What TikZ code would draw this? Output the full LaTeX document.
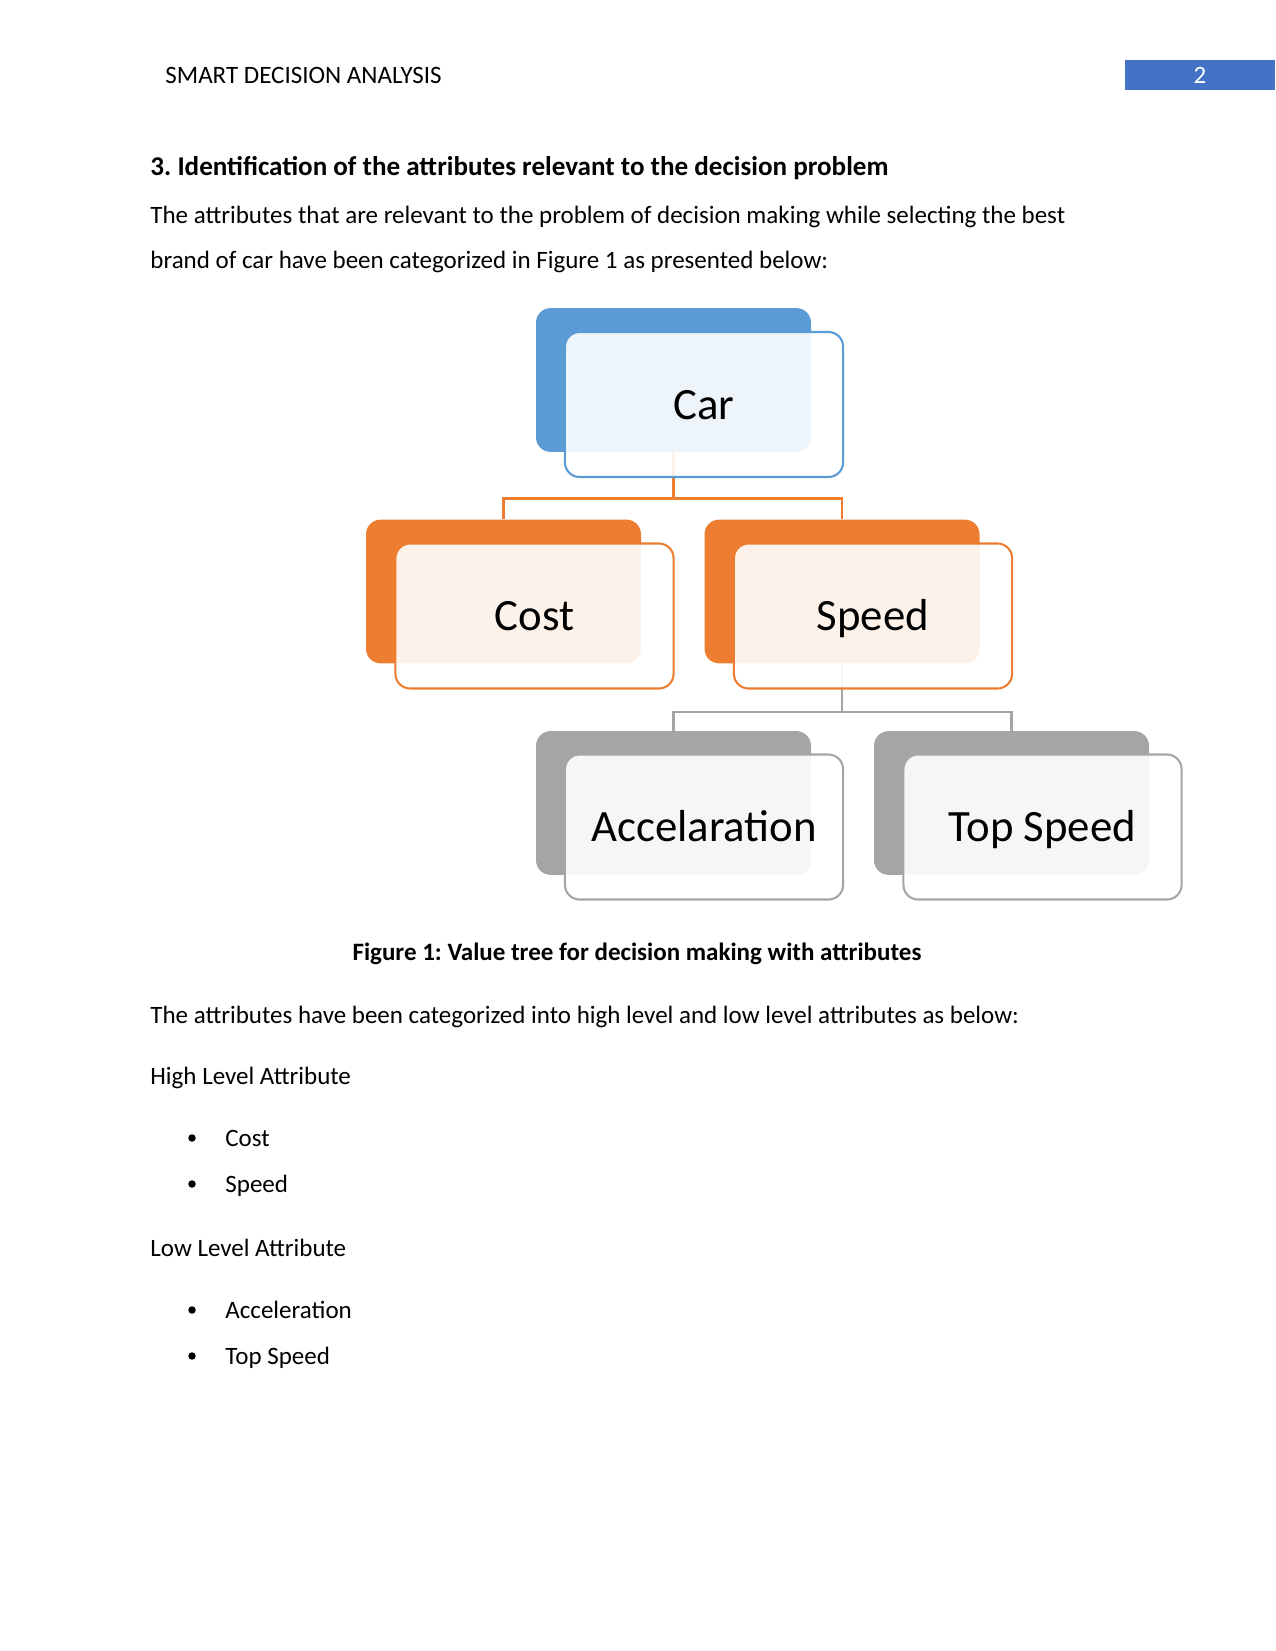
\documentclass[tikz,border=0pt]{standalone}
\usepackage{fontspec}
\setmainfont{Carlito}
\usetikzlibrary{calc}
\definecolor{cblue}{RGB}{91,155,213}
\definecolor{corange}{RGB}{237,125,49}
\definecolor{cgrey}{RGB}{165,165,165}
\definecolor{hdrblue}{RGB}{68,114,196}
\frenchspacing
\begin{document}
\begin{tikzpicture}[x=0.48pt,y=-0.48pt,
 backbox/.style={rectangle, rounded corners=7pt, minimum width=132pt, minimum height=69pt, inner sep=0pt, fill=#1},
 frontbox/.style={rectangle, rounded corners=7pt, minimum width=133.5pt, minimum height=69.6pt, inner sep=0pt, draw=#1, line width=1pt, fill=white, fill opacity=0.9, text opacity=1, text=black, text height=14pt, text depth=0pt, font=\fontsize{21.5}{24}\selectfont},
 link/.style={draw=#1, line width=1.2pt},
 body/.style={anchor=base west, inner sep=0pt, font=\fontsize{12}{14}\selectfont},
 bodyb/.style={body, font=\fontsize{13}{15}\selectfont\bfseries},
 bullet/.style={circle, fill=black, inner sep=0pt, minimum size=3.6pt},
]
\useasboundingbox (0,0) rectangle (1275,1651);
% header
\node[body] (hdr) at (165,84) {SMART DECISION ANALYSIS};
\node[rectangle, fill=hdrblue, minimum width=72pt, minimum height=14.2pt, inner sep=0pt] (pgbox) at (1200,75) {};
\node[anchor=base, inner sep=0pt, text=white, font=\fontsize{12}{14}\selectfont] (pgnum) at (1200,84) {2};
% text above
\node[bodyb] (heading) at (150,176) {3. Identification of the attributes relevant to the decision problem};
\node[body] (p1a) at (150,223) {The attributes that are relevant to the problem of decision making while selecting the best};
\node[body] (p1b) at (150,269) {brand of car have been categorized in Figure 1 as presented below:};
% back boxes
\node[backbox=cblue] (carB) at (673.5,380) {};
\node[backbox=corange] (costB) at (503.5,591.5) {};
\node[backbox=corange] (speedB) at (842,591.5) {};
\node[backbox=cgrey] (accB) at (673.5,803) {};
\node[backbox=cgrey] (topB) at (1011.5,803) {};
% connectors
\draw[link=corange] (carB.south) -- ++(0,46) -| (costB.north);
\draw[link=corange] (carB.south) -- ++(0,46) -| (speedB.north);
\draw[link=cgrey] (speedB.south) -- ++(0,48) -| (accB.north);
\draw[link=cgrey] (speedB.south) -- ++(0,48) -| (topB.north);
% front boxes
\node[frontbox=cblue] (car) at (704,404.5) {Car};
\node[frontbox=corange] (cost) at (534.5,616) {Cost};
\node[frontbox=corange] (speed) at (873,616) {Speed};
\node[frontbox=cgrey] (acc) at (704,827) {Accelaration};
\node[frontbox=cgrey] (top) at (1042.5,827) {Top Speed};
% caption
\node[anchor=base, inner sep=0pt, font=\fontsize{12}{14}\selectfont\bfseries] (caption) at (637,960) {Figure 1: Value tree for decision making with attributes};
% text below
\node[body] (p2) at (150,1023) {The attributes have been categorized into high level and low level attributes as below:};
\node[body] (high) at (150,1084) {High Level Attribute};
\node[bullet] (b1) at (192,1138) {};
\node[body] (l1) at (225,1146) {Cost};
\node[bullet] (b2) at (192,1184) {};
\node[body] (l2) at (225,1192) {Speed};
\node[body] (low) at (150,1256) {Low Level Attribute};
\node[bullet] (b3) at (192,1310) {};
\node[body] (l3) at (225,1318) {Acceleration};
\node[bullet] (b4) at (192,1356) {};
\node[body] (l4) at (225,1364) {Top Speed};
\end{tikzpicture}
\end{document}
